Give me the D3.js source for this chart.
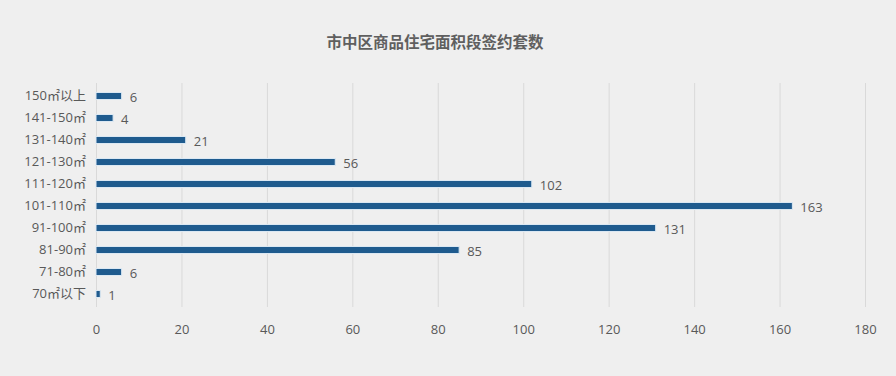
<!DOCTYPE html>
<html>
<head>
<meta charset="utf-8">
<script src="https://cdn.jsdelivr.net/npm/d3@7"></script>
<style>
  html, body { margin: 0; padding: 0; background: #efefef; }
  svg { display: block; font-family: 'Noto Sans CJK SC', 'Open Sans', sans-serif; }
</style>
</head>
<body>
<div class="svg-container"></div>
<script>
const categories = ['150㎡以上', '141-150㎡', '131-140㎡', '121-130㎡', '111-120㎡',
  '101-110㎡', '91-100㎡', '81-90㎡', '71-80㎡', '70㎡以下']
const values = [6, 4, 21, 56, 102, 163, 131, 85, 6, 1]
const xTicks = [0, 20, 40, 60, 80, 100, 120, 140, 160, 180]

const width = 896
const height = 376
const margin = { top: 85, right: 31, bottom: 71, left: 96 }

const svg = d3.select('.svg-container')
  .append('svg')
  .attr('width', width)
  .attr('height', height)

svg.append('rect')
  .attr('width', width)
  .attr('height', height)
  .attr('fill', '#efefef')

svg.append('text')
  .attr('x', 435)
  .attr('y', 48)
  .attr('text-anchor', 'middle')
  .attr('font-size', 15.5)
  .attr('font-weight', 'bold')
  .attr('fill', '#5f5f5f')
  .text('市中区商品住宅面积段签约套数')

const xScale = d3.scaleLinear()
  .domain([0, 180])
  .range([margin.left, width - margin.right])

const yScale = d3.scaleBand()
  .domain(categories)
  .range([margin.top, height - margin.bottom])

// vertical gridlines
svg.append('g')
  .selectAll('line')
  .data(xTicks)
  .join('line')
    .attr('x1', d => xScale(d) + 0.5)
    .attr('x2', d => xScale(d) + 0.5)
    .attr('y1', margin.top - 2)
    .attr('y2', height - margin.bottom + 2)
    .attr('stroke', '#d9d9d9')
    .attr('stroke-width', 1)

const xAxis = d3.axisBottom(xScale)
  .tickValues(xTicks)
  .tickSize(0)
  .tickPadding(0)

const xAxisG = svg.append('g')
  .attr('transform', `translate(0, ${height - margin.bottom + 20})`)
  .call(xAxis)
xAxisG.select('.domain').remove()
xAxisG.selectAll('text')
  .attr('font-size', 13)
  .attr('fill', '#595959')
  .attr('font-family', "'Open Sans', sans-serif")

const yAxis = d3.axisLeft(yScale).tickSize(0).tickPadding(10)
const yAxisG = svg.append('g')
  .attr('transform', `translate(${margin.left}, 0)`)
  .call(yAxis)
yAxisG.select('.domain').remove()
yAxisG.selectAll('text')
  .attr('font-size', 13)
  .attr('fill', '#595959')
  .attr('font-family', "'Open Sans', 'Noto Sans CJK SC', sans-serif")

const barH = 7
svg.append('g')
  .selectAll('rect')
  .data(values)
  .join('rect')
    .attr('x', xScale(0))
    .attr('y', (d, i) => yScale(categories[i]) + yScale.bandwidth() / 2 - barH / 2)
    .attr('width', d => xScale(d) - xScale(0))
    .attr('height', barH)
    .attr('fill', '#1f5b8e')
    .attr('stroke', '#dbe8f3')
    .attr('stroke-width', 1)

svg.append('g')
  .selectAll('text')
  .data(values)
  .join('text')
    .attr('x', d => xScale(d) + 8)
    .attr('y', (d, i) => yScale(categories[i]) + yScale.bandwidth() / 2 + 5.5)
    .attr('font-size', 13)
    .attr('fill', '#595959')
    .attr('font-family', "'Open Sans', sans-serif")
    .text(d => d)
</script>
</body>
</html>
